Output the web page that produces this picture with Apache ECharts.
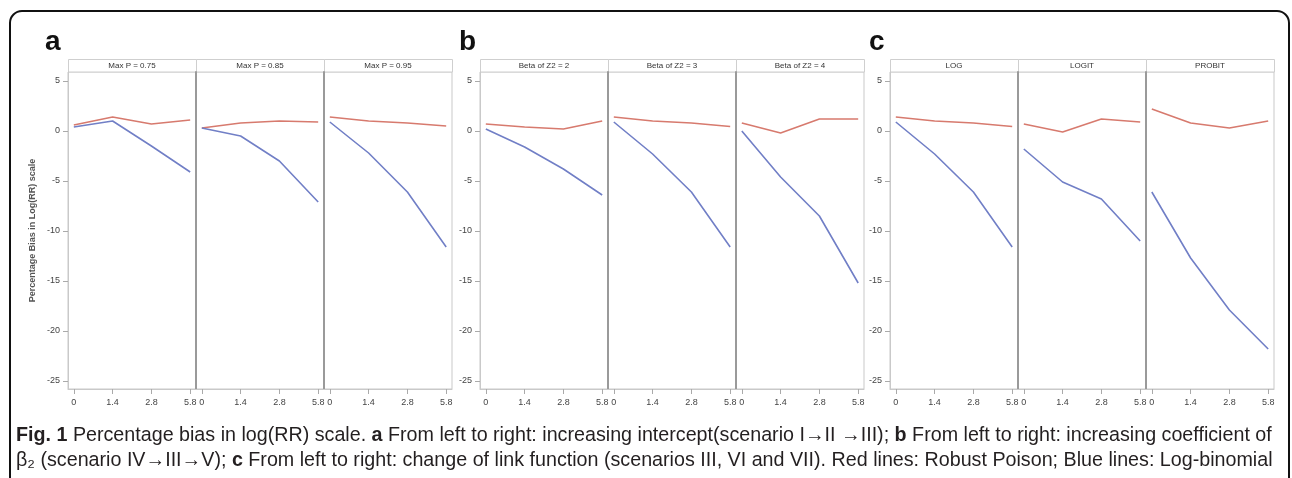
<html>
    <head>
        <meta charset="utf-8">
        <script src="https://cdn.jsdelivr.net/npm/echarts@6/dist/echarts.min.js"></script>
    </head>
    <body>
        <style>
            html, body, #main {
                width: 100%;
                height: 100%;
                margin: 0;
                background: #fff;
            }
        </style>
        <div id='main'></div>
        <script>
            // x tick labels and y tick values
            var xLabels = ['0', '1.4', '2.8', '5.8'];
            var yTicks = [5, 0, -5, -10, -15, -20, -25];

            // strip titles
            var titlesA = ['Max P = 0.75', 'Max P = 0.85', 'Max P = 0.95'];
            var titlesB = ['Beta of Z2 = 2', 'Beta of Z2 = 3', 'Beta of Z2 = 4'];
            var titlesC = ['LOG', 'LOGIT', 'PROBIT'];

            // red = robust poisson, blue = log-binomial
            var redA1 = [0.6, 1.4, 0.7, 1.1];
            var blueA1 = [0.4, 1.0, -1.5, -4.1];
            var redA2 = [0.3, 0.8, 1.0, 0.9];
            var blueA2 = [0.3, -0.5, -3.0, -7.1];
            var redA3 = [1.4, 1.0, 0.8, 0.5];
            var blueA3 = [0.9, -2.2, -6.1, -11.6];

            var redB1 = [0.7, 0.4, 0.2, 1.0];
            var blueB1 = [0.2, -1.6, -3.8, -6.4];
            var redB2 = [1.4, 1.0, 0.8, 0.45];
            var blueB2 = [0.9, -2.3, -6.1, -11.6];
            var redB3 = [0.8, -0.2, 1.2, 1.2];
            var blueB3 = [0.0, -4.6, -8.5, -15.2];

            var redC1 = [1.4, 1.0, 0.8, 0.45];
            var blueC1 = [0.9, -2.3, -6.1, -11.6];
            var redC2 = [0.7, -0.1, 1.2, 0.9];
            var blueC2 = [-1.8, -5.1, -6.8, -11.0];
            var redC3 = [2.2, 0.8, 0.3, 1.0];
            var blueC3 = [-6.1, -12.7, -17.9, -21.8];

            var panels = [
                {lefts: [68, 196, 324], titles: titlesA, red: [redA1, redA2, redA3], blue: [blueA1, blueA2, blueA3]},
                {lefts: [480, 608, 736], titles: titlesB, red: [redB1, redB2, redB3], blue: [blueB1, blueB2, blueB3]},
                {lefts: [890, 1018, 1146], titles: titlesC, red: [redC1, redC2, redC3], blue: [blueC1, blueC2, blueC3]}
            ];

            var TOP = 72, H = 317, W = 128;
            var RED = '#d77a6e', BLUE = '#717fc6';

            function pts(arr) {
                return arr.map(function (v, i) { return [i, v]; });
            }

            var grids = [], xAxes = [], yAxes = [], series = [], graphics = [];
            var k = 0;
            panels.forEach(function (p, pi) {
                for (var j = 0; j < 3; j++) {
                    grids.push({left: p.lefts[j], top: TOP, width: W, height: H,
                        show: true, borderColor: '#c9c9c9', borderWidth: 1, backgroundColor: '#fff'});
                    xAxes.push({
                        type: 'value', gridIndex: k, min: -0.15, max: 3.15,
                        splitLine: {show: false},
                        axisLine: {show: true, onZero: false, lineStyle: {color: '#c9c9c9'}},
                        axisTick: {show: true, length: 5, lineStyle: {color: '#aaa'}, customValues: [0, 1, 2, 3]},
                        axisLabel: {customValues: [0, 1, 2, 3], margin: 9, fontSize: 9, color: '#444',
                            fontFamily: 'Liberation Sans',
                            formatter: function (v) { return xLabels[Math.round(v)]; }}
                    });
                    yAxes.push({
                        type: 'value', gridIndex: k, min: -25.8, max: 5.9,
                        splitLine: {show: false},
                        name: (pi === 0 && j === 0) ? 'Percentage Bias in Log(RR) scale' : '',
                        nameLocation: 'middle', nameGap: 31, nameRotate: 90,
                        nameTextStyle: {fontSize: 9, color: '#555', fontFamily: 'Liberation Sans', fontWeight: 'bold'},
                        axisLine: {show: true, onZero: false,
                            lineStyle: j === 0 ? {color: '#c9c9c9', width: 1} : {color: '#9a9a9a', width: 2}},
                        axisTick: {show: j === 0, length: 5, lineStyle: {color: '#aaa'}, customValues: yTicks},
                        axisLabel: {show: j === 0, customValues: yTicks, margin: 8, fontSize: 9, color: '#444',
                            fontFamily: 'Liberation Sans'}
                    });
                    series.push({type: 'line', xAxisIndex: k, yAxisIndex: k, data: pts(p.red[j]),
                        symbol: 'none', lineStyle: {color: RED, width: 1.6}, itemStyle: {color: RED}, silent: true});
                    series.push({type: 'line', xAxisIndex: k, yAxisIndex: k, data: pts(p.blue[j]),
                        symbol: 'none', lineStyle: {color: BLUE, width: 1.6}, itemStyle: {color: BLUE}, silent: true});
                    // strip header
                    graphics.push({type: 'rect', shape: {x: p.lefts[j] + 0.5, y: 59.5, width: W, height: 12.5},
                        style: {fill: '#fff', stroke: '#cfcfcf', lineWidth: 1}});
                    graphics.push({type: 'text', x: p.lefts[j] + W / 2, y: 66,
                        style: {text: p.titles[j], fontSize: 8, fill: '#333', fontFamily: 'Liberation Sans',
                            align: 'center', verticalAlign: 'middle'}});
                    k++;
                }
            });

            // panel letters
            [['a', 45], ['b', 459], ['c', 869]].forEach(function (l) {
                graphics.push({type: 'text', x: l[1], y: 42,
                    style: {text: l[0], fontSize: 28, fontWeight: 'bold', fill: '#111', fontFamily: 'Liberation Sans',
                        verticalAlign: 'middle'}});
            });

            // outer frame
            graphics.push({type: 'rect', shape: {x: 10, y: 11, width: 1279, height: 520, r: 12},
                style: {fill: 'none', stroke: '#111', lineWidth: 2}});

            // caption
            var capRich = {
                b: {fontWeight: 'bold', fontSize: 19.7, fontFamily: 'Liberation Sans', fill: '#231f20'}
            };
            graphics.push({type: 'text', x: 16, y: 436,
                style: {text: '{b|Fig. 1} Percentage bias in log(RR) scale. {b|a} From left to right: increasing intercept(scenario I\u2192II \u2192III); {b|b} From left to right: increasing coefficient of',
                    rich: capRich, fontSize: 19.7, fontFamily: 'Liberation Sans', fill: '#231f20', verticalAlign: 'middle'}});
            graphics.push({type: 'text', x: 16, y: 461,
                style: {text: '\u03b2\u2082 (scenario IV\u2192III\u2192V); {b|c} From left to right: change of link function (scenarios III, VI and VII). Red lines: Robust Poison; Blue lines: Log-binomial',
                    rich: capRich, fontSize: 19.7, fontFamily: 'Liberation Sans', fill: '#231f20', verticalAlign: 'middle'}});

            var chart = echarts.init(document.getElementById('main'));
            chart.setOption({
                animation: false,
                backgroundColor: '#fff',
                grid: grids,
                xAxis: xAxes,
                yAxis: yAxes,
                series: series,
                graphic: graphics
            });
        </script>
    </body>
</html>
